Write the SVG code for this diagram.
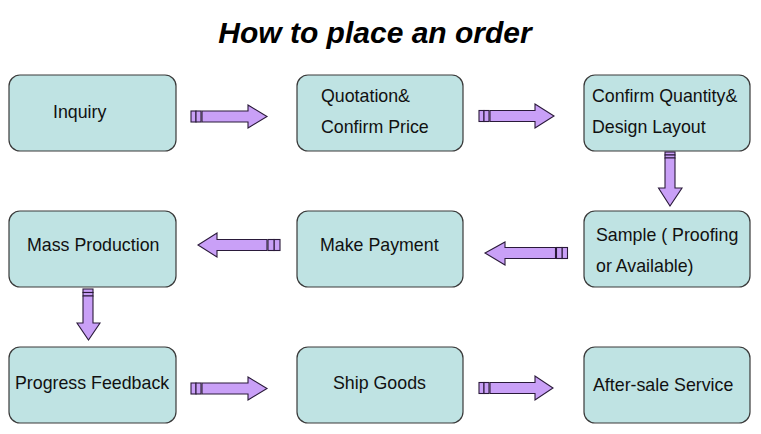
<svg xmlns="http://www.w3.org/2000/svg" width="761" height="434" viewBox="0 0 761 434">
<style>
.box{fill:#bfe3e3;stroke:#3a3a3a;stroke-width:1.2}
.t{font-family:"Liberation Sans",Arial,sans-serif;font-size:17.8px;fill:#111}
.title{font-family:"Liberation Sans",Arial,sans-serif;font-size:30px;font-weight:bold;font-style:italic;fill:#000}
.ar{fill:#c9a0f7;stroke:#2a1a3a;stroke-width:1.1;stroke-linejoin:miter}
</style>
<rect width="761" height="434" fill="#fff"/>
<text class="title" x="375" y="43" text-anchor="middle">How to place an order</text>

<g id="n-inquiry"><rect class="box" x="9" y="75" width="167" height="76" rx="11"/><text class="t" x="53" y="118">Inquiry</text></g>
<g id="n-quotation"><rect class="box" x="297" y="75" width="166" height="76" rx="11"/><text class="t" x="321" y="102">Quotation&amp;</text><text class="t" x="321" y="133">Confirm Price</text></g>
<g id="n-confirm"><rect class="box" x="584" y="75" width="166" height="76" rx="11"/><text class="t" x="592" y="102">Confirm Quantity&amp;</text><text class="t" x="592" y="133">Design Layout</text></g>
<g id="n-sample"><rect class="box" x="584" y="211" width="166" height="76" rx="11"/><text class="t" x="596" y="241">Sample ( Proofing</text><text class="t" x="596" y="272">or Available)</text></g>
<g id="n-payment"><rect class="box" x="297" y="211" width="166" height="76" rx="11"/><text class="t" x="320" y="251">Make Payment</text></g>
<g id="n-mass"><rect class="box" x="9" y="211" width="167" height="76" rx="11"/><text class="t" x="27" y="251">Mass Production</text></g>
<g id="n-progress"><rect class="box" x="9" y="347" width="167" height="76" rx="11"/><text class="t" x="15" y="389">Progress Feedback</text></g>
<g id="n-ship"><rect class="box" x="297" y="347" width="166" height="76" rx="11"/><text class="t" x="333" y="389">Ship Goods</text></g>
<g id="n-aftersale"><rect class="box" x="584" y="347" width="166" height="76" rx="11"/><text class="t" x="593" y="391">After-sale Service</text></g>

<g id="connectors">
<g>
<rect class="ar" x="191" y="111" width="5" height="11"/><rect class="ar" x="196" y="111" width="5" height="11"/>
<path class="ar" d="M202,111 H248 V105 L267,116.5 L248,128 V122 H202 Z"/>
</g>
<g>
<rect class="ar" x="479" y="110.5" width="5" height="11"/><rect class="ar" x="484" y="110.5" width="5" height="11"/>
<path class="ar" d="M490,110.5 H535 V104 L554,116 L535,128 V121.5 H490 Z"/>
</g>
<g>
<rect class="ar" x="665" y="152" width="10" height="3"/><rect class="ar" x="665" y="155" width="10" height="3"/>
<path class="ar" d="M665,158 V188 H658.5 L670,206 L682,188 H675 V158 Z"/>
</g>
<g>
<rect class="ar" x="562" y="247.5" width="5.5" height="11"/><rect class="ar" x="556.5" y="247.5" width="5.5" height="11"/>
<path class="ar" d="M555.5,247.5 H505 V242 L485,253 L505,265 V258.5 H555.5 Z"/>
</g>
<g>
<rect class="ar" x="274" y="239.5" width="6" height="11"/><rect class="ar" x="268" y="239.5" width="6" height="11"/>
<path class="ar" d="M267,239.5 H217 V233 L198,245 L217,257 V250.5 H267 Z"/>
</g>
<g>
<rect class="ar" x="83" y="289" width="10" height="3.5"/><rect class="ar" x="83" y="292.5" width="10" height="3.5"/>
<path class="ar" d="M83,296 V323 H77 L88.5,340 L100,323 H93 V296 Z"/>
</g>
<g>
<rect class="ar" x="191" y="383" width="5" height="11"/><rect class="ar" x="196" y="383" width="5" height="11"/>
<path class="ar" d="M202,383 H248 V377 L267,388.5 L248,400 V394 H202 Z"/>
</g>
<g>
<rect class="ar" x="479" y="382.5" width="5" height="11"/><rect class="ar" x="484" y="382.5" width="5" height="11"/>
<path class="ar" d="M490,382.5 H535 V376 L553,388 L535,400 V393.5 H490 Z"/>
</g>
</g>
</svg>
